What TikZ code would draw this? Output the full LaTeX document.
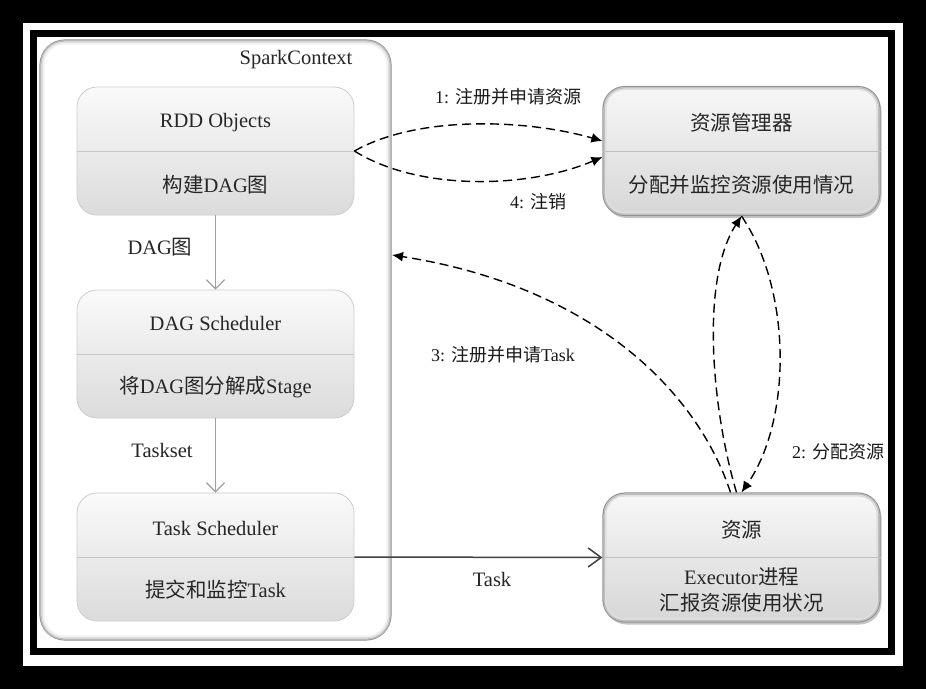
\documentclass[tikz,border=0pt]{standalone}
\usepackage{fontspec}
\setmainfont{Liberation Serif}
\newfontfamily\cjk{Noto Sans CJK SC}
\usetikzlibrary{arrows.meta,shadows}
\begin{document}
\begin{tikzpicture}[x=1pt,y=-1pt,
  lbox/.style={rounded corners=20pt, draw=gray!40, line width=0.8pt, top color=gray!4, bottom color=gray!28, minimum width=277pt, minimum height=128pt, inner sep=0pt},
  rbox/.style={rounded corners=22pt, draw=gray!85, line width=1.2pt, top color=gray!6, bottom color=gray!32, minimum width=277pt, minimum height=129pt, inner sep=0pt, drop shadow={shadow xshift=1.5pt, shadow yshift=-2.5pt, opacity=0.45}},
  btxt/.style={font=\fontsize{20.5}{26}\selectfont, text=black!85, inner sep=0pt, align=center},
  ltxt/.style={font=\fontsize{18}{22}\selectfont, text=black!90, inner sep=0pt},
  dsh/.style={dash pattern=on 9pt off 5pt, line width=1.4pt, -{Latex[length=11pt,width=10pt]}},
  gar/.style={draw=gray!75, line width=1.3pt, -{Straight Barb[length=9pt,width=18pt]}},
  divl/.style={draw=gray!45, line width=0.8pt},
]
\useasboundingbox (0,0) rectangle (926,689);
% frame
\fill[black] (0,0) rectangle (926,689);
\fill[white] (23,23) rectangle (903,666);
\draw[line width=7pt] (33.5,33.5) rectangle (891.5,651.5);

% SparkContext container
\node[rounded corners=25pt, draw=gray!90, line width=1.2pt, fill=white, minimum width=351pt, minimum height=600pt, inner sep=0pt] (spark) at (215.5,340) {};
\draw[rounded corners=23.5pt, gray!55, line width=1.5pt] ([shift={(1.5,1.5)}]spark.north west) rectangle ([shift={(-1.5,-1.5)}]spark.south east);
\draw[rounded corners=22pt, gray!25, line width=1.5pt] ([shift={(3,3)}]spark.north west) rectangle ([shift={(-3,-3)}]spark.south east);
\draw[rounded corners=20.5pt, gray!10, line width=1.5pt] ([shift={(4.5,4.5)}]spark.north west) rectangle ([shift={(-4.5,-4.5)}]spark.south east);
\node[btxt] (sclabel) at (296,60) {SparkContext};

% left boxes
\node[lbox] (rdd) at (215.5,151) {};
\draw[divl] (rdd.west) -- (rdd.east);
\node[btxt] (rddA) at (215.5,123) {RDD Objects};
\node[btxt] (rddB) at (215.5,185) {{\cjk 构建}DAG{\cjk 图}};

\node[lbox] (dags) at (215.5,354) {};
\draw[divl] (dags.west) -- (dags.east);
\node[btxt] (dagsA) at (215.5,323) {DAG Scheduler};
\node[btxt] (dagsB) at (215.5,387) {{\cjk 将}DAG{\cjk 图分解成}Stage};

\node[lbox] (tsch) at (215.5,557) {};
\draw[divl] (tsch.west) -- (tsch.east);
\node[btxt] (tschA) at (215.5,528) {Task Scheduler};
\node[btxt] (tschB) at (215.5,590) {{\cjk 提交和监控}Task};

% right boxes
\node[rbox] (rm) at (741.5,151) {};
\draw[rounded corners=20pt, gray!50, line width=1.5pt] ([shift={(2,2)}]rm.north west) rectangle ([shift={(-2,-2)}]rm.south east);
\draw[rounded corners=18.5pt, gray!25, line width=1.5pt] ([shift={(3.5,3.5)}]rm.north west) rectangle ([shift={(-3.5,-3.5)}]rm.south east);
\draw[divl, draw=gray!50] (rm.west) -- (rm.east);
\node[btxt] (rmA) at (741.5,123) {\cjk 资源管理器};
\node[btxt] (rmB) at (741.5,185) {\cjk 分配并监控资源使用情况};

\node[rbox] (res) at (741.5,557.5) {};
\draw[rounded corners=20pt, gray!50, line width=1.5pt] ([shift={(2,2)}]res.north west) rectangle ([shift={(-2,-2)}]res.south east);
\draw[rounded corners=18.5pt, gray!25, line width=1.5pt] ([shift={(3.5,3.5)}]res.north west) rectangle ([shift={(-3.5,-3.5)}]res.south east);
\draw[divl, draw=gray!50] (res.west) -- (res.east);
\node[btxt] (resA) at (741.5,530) {\cjk 资源};
\node[btxt] (resB) at (741.5,590) {Executor{\cjk 进程}\\{\cjk 汇报资源使用状况}};

% internal flow
\draw[gar] (rdd) -- (dags);
\draw[gar] (dags) -- (tsch);
\node[btxt] (lblDAG) at (160,247) {DAG{\cjk 图}};
\node[btxt] (lblTS) at (162,450) {Taskset};

% Task arrow
\draw[draw=black!75, line width=1.5pt, -{Straight Barb[length=13pt,width=19pt]}] (tsch.east) -- (res.west);
\node[btxt] (lblTask) at (492,579) {Task};

% 1 and 4
\draw[dsh] (rdd.east) .. controls (420,114) and (530,120) .. ([yshift=10pt]rm.west);
\draw[dsh] (rdd.east) .. controls (420,192) and (530,188) .. ([yshift=-6pt]rm.west);
\node[ltxt] (lbl1) at (508,97) {1: {\cjk 注册并申请资源}};
\node[ltxt] (lbl4) at (538,202) {4: {\cjk 注销}};

% 2
\draw[dsh] ([xshift=-5pt]res.north) .. controls (712,410) and (700,280) .. (rm.south);
\draw[dsh] (rm.south) .. controls (792,290) and (792,420) .. (res.north);
\node[ltxt] (lbl2) at (838,452) {2: {\cjk 分配资源}};

% 3
\coordinate (sparkin) at (392,255);
\draw[dsh] ([xshift=-11pt]res.north) .. controls (695,385) and (585,285) .. (sparkin);
\node[ltxt] (lbl3) at (503,355) {3: {\cjk 注册并申请}Task};
\end{tikzpicture}
\end{document}
